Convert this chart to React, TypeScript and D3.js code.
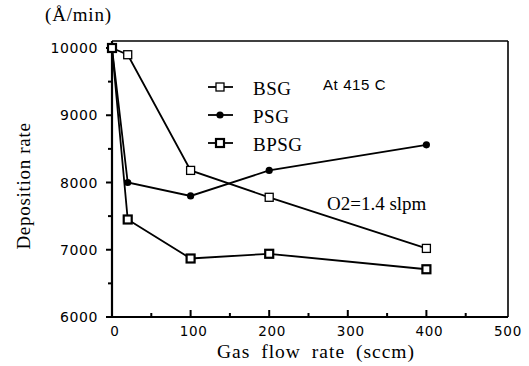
import React from 'react';
import * as d3 from 'd3';

// gas flow rate (sccm)
const flows = [0, 20, 100, 200, 400];
// deposition rate (A/min)
const bsg = [10000, 9900, 8180, 7780, 7020];
const psg = [10000, 8000, 7800, 8180, 8560];
const bpsg = [10000, 7450, 6870, 6940, 6710];

const xTicks = [0, 100, 200, 300, 400, 500];
const yTicks = [6000, 7000, 8000, 9000, 10000];
const xMinor = [50, 150, 250, 350, 450];
const yMinor = [6500, 7500, 8500, 9500];

const legendNames = ['BSG', 'PSG', 'BPSG'];

const W = 529;
const H = 366;
const serif = "'Liberation Serif', 'Times New Roman', serif";
const sans = "'DejaVu Sans', sans-serif";

export default function App() {
  const x = d3.scaleLinear().domain([0, 500]).range([112, 505]);
  const y = d3.scaleLinear().domain([6000, 10000]).range([317, 48]);
  const top = 41;
  const right = 508;

  const line = d3
    .line<number>()
    .x((_, i) => x(flows[i]))
    .y((d) => y(d));

  const series = [
    { name: 'BSG', values: bsg },
    { name: 'PSG', values: psg },
    { name: 'BPSG', values: bpsg },
  ];

  const marker = (name: string, cx: number, cy: number, key: string) => {
    if (name === 'PSG') {
      return <circle key={key} cx={cx} cy={cy} r={3.6} fill="#000" />;
    }
    if (name === 'BPSG') {
      return (
        <rect key={key} x={cx - 4} y={cy - 4} width={8} height={8}
          fill="#fff" stroke="#000" strokeWidth={2.2} />
      );
    }
    return (
      <rect key={key} x={cx - 4} y={cy - 4} width={8} height={8}
        fill="#fff" stroke="#000" strokeWidth={1.3} />
    );
  };

  return (
    <svg width={W} height={H} style={{ position: 'absolute', left: 0, top: 0, background: '#fff' }}>
      <rect width={W} height={H} fill="#fff" />

      {/* frame */}
      <line x1={x(0)} x2={right} y1={top} y2={top} stroke="#000" strokeWidth={1.6} />
      <line x1={right} x2={right} y1={top} y2={y(6000)} stroke="#000" strokeWidth={1.6} />
      <line x1={x(0)} x2={x(0)} y1={top} y2={y(6000)} stroke="#000" strokeWidth={2.2} />
      <line x1={x(0)} x2={right} y1={y(6000)} y2={y(6000)} stroke="#000" strokeWidth={2.2} />

      {/* ticks */}
      {xTicks.slice(1, -1).map((t) => (
        <line key={'xt' + t} x1={x(t)} x2={x(t)} y1={y(6000)} y2={y(6000) - 7} stroke="#000" strokeWidth={2} />
      ))}
      {xMinor.map((t) => (
        <line key={'xm' + t} x1={x(t)} x2={x(t)} y1={y(6000)} y2={y(6000) - 4} stroke="#000" strokeWidth={2} />
      ))}
      {yTicks.map((t) => (
        <line key={'yt' + t} x1={x(0) - 6} x2={x(0)} y1={y(t)} y2={y(t)} stroke="#000" strokeWidth={2} />
      ))}
      {yMinor.map((t) => (
        <line key={'ym' + t} x1={x(0) - 4} x2={x(0)} y1={y(t)} y2={y(t)} stroke="#000" strokeWidth={2} />
      ))}

      {/* tick labels */}
      {xTicks.map((t) => (
        <text key={'xl' + t} x={x(t) + 3} y={336} textAnchor="middle"
          fontFamily={sans} fontSize={13.5} letterSpacing={0.7}>{t}</text>
      ))}
      {yTicks.map((t) => (
        <text key={'yl' + t} x={98} y={y(t) + 5} textAnchor="end"
          fontFamily={sans} fontSize={14} letterSpacing={0.6}>{t}</text>
      ))}

      {/* series */}
      {series.map((s) => (
        <g key={s.name}>
          <path d={line(s.values) || ''} fill="none" stroke="#000" strokeWidth={1.8} />
          {s.values.map((v, i) => marker(s.name, x(flows[i]), y(v), s.name + i))}
        </g>
      ))}

      {/* legend */}
      {legendNames.map((n, i) => {
        const ly = 87 + i * 28;
        return (
          <g key={'lg' + n}>
            <line x1={208} x2={233} y1={ly} y2={ly} stroke="#000" strokeWidth={1.8} />
            {marker(n, 220, ly, 'lm' + n)}
            <text x={253} y={ly + 8} fontFamily={serif} fontSize={19} letterSpacing={0.5}>{n}</text>
          </g>
        );
      })}
      <text x={323} y={90} fontFamily="'Liberation Sans', sans-serif" fontSize={15} letterSpacing={0.6}>At 415 C</text>
      <text x={327} y={210} fontFamily={serif} fontSize={19}>O2=1.4 slpm</text>

      {/* axis titles */}
      <text x={45} y={21} fontFamily={serif} fontSize={19} letterSpacing={0.8}>(Å/min)</text>
      <text transform="translate(30,186) rotate(-90)" textAnchor="middle"
        fontFamily={serif} fontSize={19} letterSpacing={0.7}>Deposition rate</text>
      <text x={316} y={358} textAnchor="middle" fontFamily={serif} fontSize={19.5}
        letterSpacing={1} wordSpacing={5}>
        Gas flow rate (sccm)
      </text>
    </svg>
  );
}
